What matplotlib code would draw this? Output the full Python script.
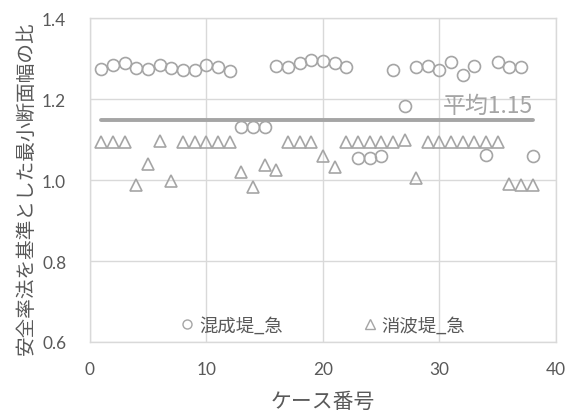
import matplotlib
matplotlib.use("Agg")
import matplotlib.pyplot as plt
from matplotlib.lines import Line2D

plt.rcParams['font.family'] = ['Noto Sans CJK JP', 'DejaVu Sans']

cases = list(range(1, 39))
mixed = [1.276, 1.286, 1.290, 1.278, 1.276, 1.285, 1.277, 1.272, 1.273, 1.284,
         1.280, 1.269, 1.132, 1.132, 1.132, 1.283, 1.281, 1.291, 1.297, 1.296,
         1.289, 1.280, 1.056, 1.056, 1.060, 1.273, 1.184, 1.280, 1.283, 1.272,
         1.293, 1.260, 1.283, 1.063, 1.293, 1.281, 1.281, 1.061]
wave = [1.095, 1.095, 1.095, 0.987, 1.040, 1.097, 0.999, 1.095, 1.095, 1.095,
        1.094, 1.094, 1.021, 0.984, 1.038, 1.025, 1.094, 1.094, 1.095, 1.061,
        1.032, 1.095, 1.095, 1.095, 1.095, 1.095, 1.100, 1.005, 1.095, 1.095,
        1.095, 1.095, 1.095, 1.095, 1.095, 0.991, 0.988, 0.988]
avg_x = [1, 38]
avg_y = [1.15, 1.15]
avg_label = "平均1.15"
series_names = ["混成堤_急", "消波堤_急"]
xlabel = "ケース番号"
ylabel = "安全率法を基準とした最小断面幅の比"
xticks = [0, 10, 20, 30, 40]
yticks = [0.6, 0.8, 1.0, 1.2, 1.4]

mc = '#a5a5a5'
tc = '#595959'
gc = '#d9d9d9'

fig = plt.figure(figsize=(5.68, 4.14), dpi=100)
ax = fig.add_axes([0.158, 0.1715, 0.821, 0.7815])

ax.plot(avg_x, avg_y, color='#a5a5a5', lw=2.8, solid_capstyle='round', zorder=2)
ax.plot(cases, mixed, 'o', ms=8.6, mfc='none', mec=mc, mew=1.2, ls='none', zorder=3)
ax.plot(cases, wave, '^', ms=8.6, mfc='none', mec=mc, mew=1.2, ls='none', zorder=3)

ax.text(38.0, 1.156, avg_label, ha='right', va='bottom', fontsize=16.5, color='#a5a5a5')

ax.set_xlim(0, 40)
ax.set_ylim(0.6, 1.4)
ax.set_xticks(xticks)
ax.set_yticks(yticks)
ax.set_yticklabels([f"{v:.1f}" for v in yticks])
ax.grid(True, color=gc, lw=1)
ax.set_axisbelow(True)
for s in ax.spines.values():
    s.set_color(gc)
    s.set_linewidth(1)
ax.tick_params(length=0, labelsize=12.4, colors=tc)
ax.tick_params(axis='y', pad=17)
ax.tick_params(axis='x', pad=14)
for lab in ax.get_xticklabels() + ax.get_yticklabels():
    lab.set_family(['Lato', 'DejaVu Sans'])

ax.set_xlabel(xlabel, fontsize=15, color=tc, labelpad=9)
ax.set_ylabel(ylabel, fontsize=14.1, color=tc, labelpad=4)
ax.yaxis.label.set_y(0.48)

handles = [Line2D([], [], marker='o', ms=6.5, mfc='none', mec=mc, mew=1, ls='none'),
           Line2D([], [], marker='^', ms=7, mfc='none', mec=mc, mew=1, ls='none')]
leg = ax.legend(handles, series_names, ncol=2, loc='center',
                bbox_to_anchor=(0.5, 0.05), frameon=False, fontsize=13.2,
                handlelength=0.7, handletextpad=0.3, columnspacing=4.4,
                labelcolor=tc, borderpad=0, borderaxespad=0)

fig.savefig("out.png", dpi=100)
